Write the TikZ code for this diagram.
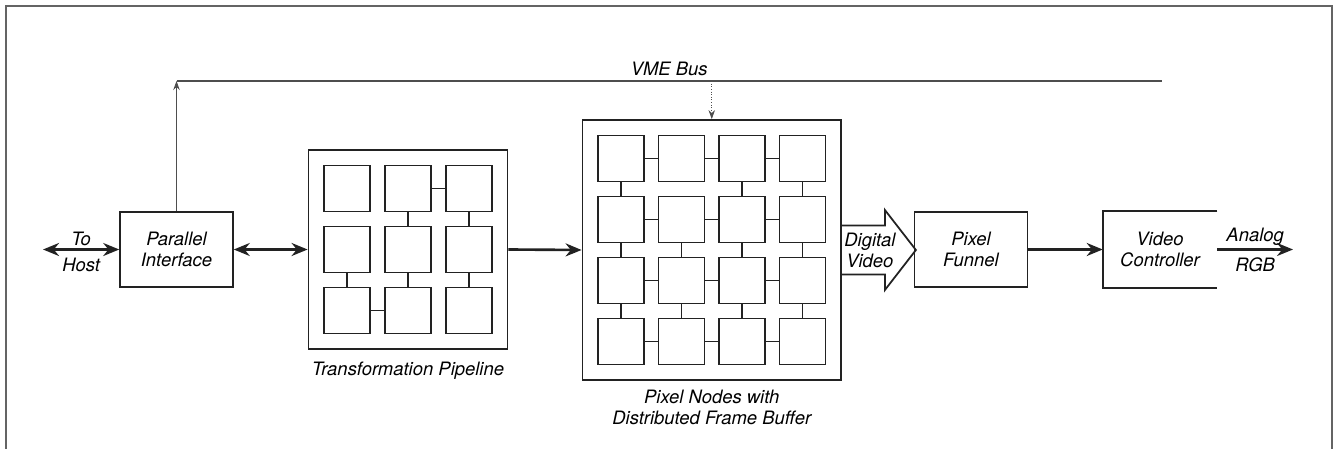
\documentclass[tikz,border=0pt]{standalone}
\usepackage{fontspec}
\setmainfont{TeX Gyre Heros}
\usepackage{tikz}
\usetikzlibrary{arrows.meta,positioning,fit,backgrounds,calc}
\definecolor{inkGrey}{HTML}{222222}
\newcommand\lbfont{\fontsize{10.5}{12}\selectfont\itshape}

\begin{document}
\begin{tikzpicture}[x=0.02cm, y=-0.02cm,
  blk/.style={draw=inkGrey, line width=0.9pt, minimum width=2.26cm,
              minimum height=1.5cm, align=center, font=\lbfont},
  cell/.style={draw=inkGrey, line width=0.7pt, minimum size=0.92cm, inner sep=0pt},
  grp/.style={draw=inkGrey, line width=0.9pt, inner sep=0.3cm},
  link/.style={draw=inkGrey, line width=0.7pt},
  arr/.style={-{Stealth[length=3.2mm,width=2.6mm]}, line width=1.5pt, draw=inkGrey},
  darr/.style={{Stealth[length=3.2mm,width=2.6mm]}-{Stealth[length=3.2mm,width=2.6mm]},
               line width=1.5pt, draw=inkGrey},
  busline/.style={line width=0.6pt, draw=inkGrey!80},
  busarr/.style={-{Stealth[length=1.8mm,width=1.3mm]}, line width=0.5pt, draw=inkGrey!80},
  fatarr/.style={draw=inkGrey, line width=1pt, line join=miter},
  frame/.style={draw=inkGrey!70, line width=0.6pt},
  lbl/.style={font=\lbfont, align=center, inner sep=1.5pt}
]
\useasboundingbox (0,0) rectangle (1334,449);
\draw[frame] (6,449) -- (6,6) -- (1332,6) -- (1332,449);

% host side
\coordinate (host) at (43,249.5);
\node[blk] (pi) at (176.5,249.5) {Parallel\\Interface};

% transformation pipeline
\foreach \r in {1,2,3}{
  \foreach \c in {1,2,3}{
    \node[cell] (t\r\c) at ({347+61*(\c-1)},{188.5+61*(\r-1)}) {};
  }
}
\draw[link] (t12) -- (t13);
\draw[link] (t31) -- (t32);
\draw[link] (t21) -- (t31);
\draw[link] (t12) -- (t22);
\draw[link] (t22) -- (t32);
\draw[link] (t13) -- (t23);
\draw[link] (t23) -- (t33);
\begin{scope}[on background layer]
\node[grp, fit=(t11)(t33)] (tp) {};
\end{scope}
\node[lbl, below=5pt of tp] {Transformation Pipeline};

% pixel nodes
\foreach \r in {1,2,3,4}{
  \foreach \c in {1,2,3,4}{
    \node[cell] (p\r\c) at ({621+60.5*(\c-1)},{158.5+61*(\r-1)}) {};
  }
}
\foreach \r in {1,2,3,4}{
  \foreach \c [count=\n from 2] in {1,2,3}{
    \draw[link] (p\r\c) -- (p\r\n);
  }
}
\foreach \c in {1,3,4}{
  \foreach \r [count=\n from 2] in {1,2,3}{
    \draw[link] (p\r\c) -- (p\n\c);
  }
}
\draw[link] (p22) -- (p32);
\draw[link] (p32) -- (p42);
\begin{scope}[on background layer]
\node[grp, fit=(p11)(p44)] (pix) {};
\end{scope}
\node[lbl, below=3.5pt of pix] {Pixel Nodes with\\Distributed Frame Buffer};

% video side
\node[blk] (pf) at (971,249.5) {Pixel\\Funnel};
\node[blk, draw=none] (vc) at (1160,249.5) {Video\\Controller};
\draw[line width=0.9pt, draw=inkGrey] (vc.north east) -- (vc.north west)
  -- (vc.south west) -- (vc.south east);
\coordinate (rgb) at (1293,249.5);

% bus
\coordinate (busL) at (176.5,81);
\coordinate (busR) at (1162,81);
\draw[busarr] (pi.north) -- (busL);
\draw[busline] (busL) -- node[lbl, above=1pt] {VME Bus} (busR);
\draw[busarr, densely dotted] (pix.north |- busL) -- (pix.north);

% arrows
\draw[darr] (host) -- node[lbl, above] {To} node[lbl, below=2.5pt] {Host} (pi.west);
\draw[darr] (pi.east) -- (tp.west);
\draw[arr] (tp.east) -- (pix.west);
\coordinate (dvt) at (pix.east);
\draw[fatarr] ($(dvt)+(0,-24.5)$) -- ++(43,0) -- ++(0,-15.5) -- ++(31,40)
  -- ++(-31,40) -- ++(0,-15.5) -- ++(-43,0);
\node[lbl] at ($(dvt)+(28,0)$) {Digital\\Video};
\draw[arr] (pf.east) -- (vc.west);
\draw[arr] (vc.east) -- node[lbl, above] {Analog} node[lbl, below=2.5pt] {RGB} (rgb);
\end{tikzpicture}
\end{document}
